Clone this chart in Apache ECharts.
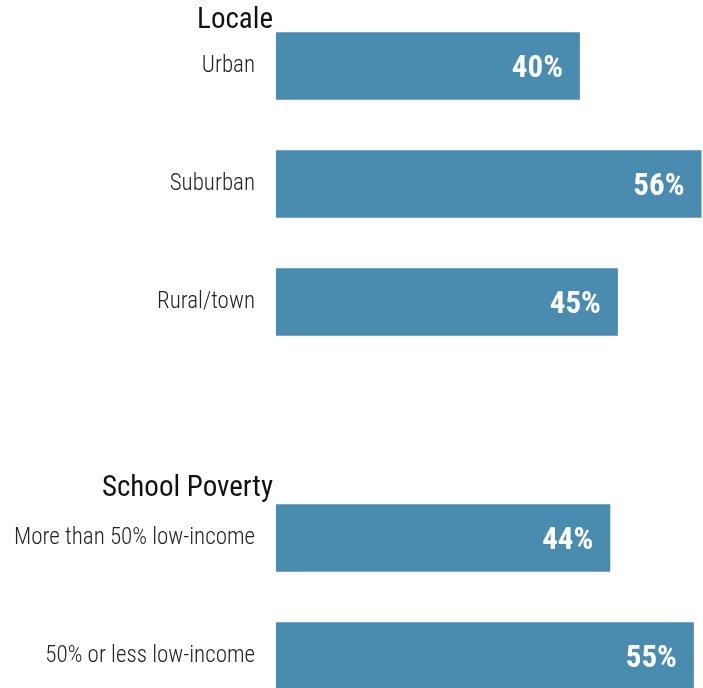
<!DOCTYPE html>
<html>
<head>
<meta charset="utf-8">
<style>
  html, body { margin: 0; padding: 0; background: #ffffff; overflow: hidden; }
  /* the drawing surface is taller than the page so the last bar is cut off at the bottom */
  #chart { width: 703px; height: 715px; }
</style>
<script src="https://cdn.jsdelivr.net/npm/echarts@6/dist/echarts.min.js"></script>
</head>
<body>
<div id="chart"></div>
<script>
// Share of respondents by group (percent)
const categories = ['Urban', 'Suburban', 'Rural/town', '', 'More than 50% low-income', '50% or less low-income'];
const values = [40, 56, 45, null, 44, 55];
const groupHeaders = ['Locale', 'School Poverty'];

const FONT = "'Roboto Condensed', 'Liberation Sans Narrow', 'DejaVu Sans Condensed', Roboto, sans-serif";
const BAR_COLOR = '#4a8cb0';

const chart = echarts.init(document.getElementById('chart'), null, { renderer: 'canvas' });

chart.setOption({
  animation: false,
  backgroundColor: '#ffffff',
  grid: { left: 276, right: 0, top: 7, bottom: 0 },
  xAxis: {
    type: 'value',
    min: 0,
    max: 56.2,
    show: false
  },
  yAxis: {
    type: 'category',
    data: categories,
    inverse: true,
    axisLine: { show: false },
    axisTick: { show: false },
    splitLine: { show: false },
    axisLabel: {
      margin: 21,
      padding: [4, 0, 0, 0],
      color: '#222222',
      fontFamily: FONT,
      fontSize: 23,
      fontWeight: 300
    }
  },
  series: [{
    type: 'bar',
    data: values,
    barCategoryGap: '43%',
    itemStyle: { color: BAR_COLOR },
    label: {
      show: true,
      position: 'insideRight',
      distance: 17,
      offset: [0, 3],
      color: '#ffffff',
      fontFamily: FONT,
      fontSize: 31,
      fontWeight: 'bold',
      formatter: p => p.value + '%'
    }
  }],
  graphic: [
    {
      type: 'text',
      right: 703 - 273,
      top: 6,
      style: { text: groupHeaders[0], fill: '#111111', font: '400 29px ' + FONT, textAlign: 'right' }
    },
    {
      type: 'text',
      right: 703 - 273,
      top: 474,
      style: { text: groupHeaders[1], fill: '#111111', font: '400 29px ' + FONT, textAlign: 'right' }
    }
  ]
});
</script>
</body>
</html>
